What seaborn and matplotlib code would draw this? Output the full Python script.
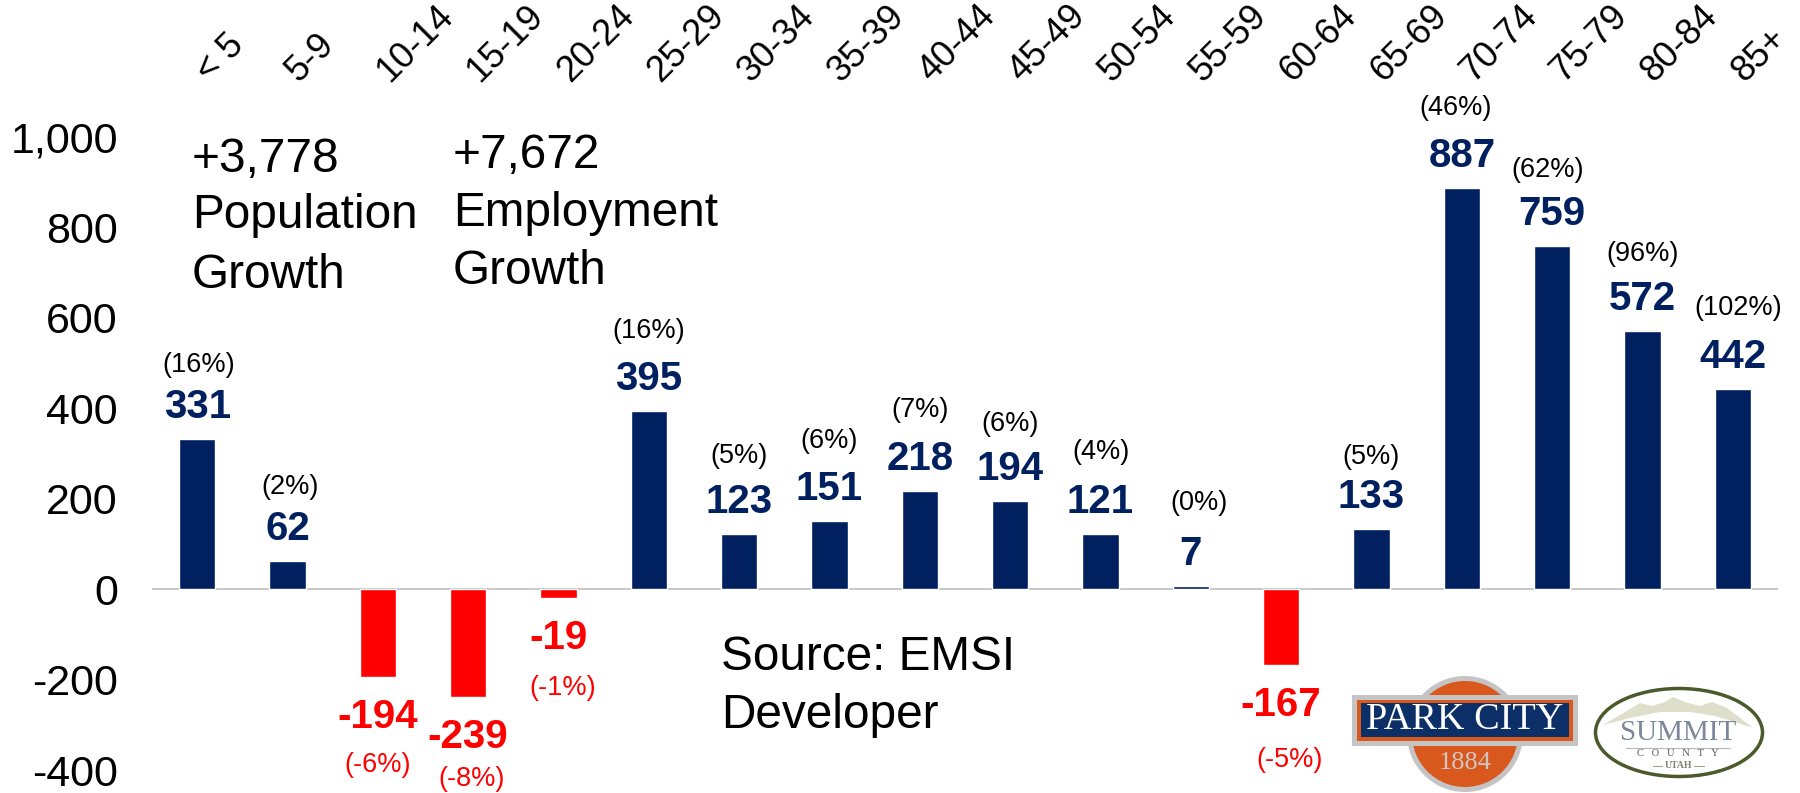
import matplotlib
matplotlib.use('Agg')
import matplotlib.pyplot as plt
from matplotlib.patches import Circle, Ellipse, Polygon, Rectangle
from matplotlib.transforms import ScaledTranslation
import pandas as pd
import seaborn as sns

# Data
age_groups = ['< 5', '5-9', '10-14', '15-19', '20-24', '25-29', '30-34', '35-39', '40-44',
              '45-49', '50-54', '55-59', '60-64', '65-69', '70-74', '75-79', '80-84', '85+']
change = [331, 62, -194, -239, -19, 395, 123, 151, 218, 194, 121, 7, -167, 133, 887, 759, 572, 442]
pct_change = [16, 2, -6, -8, -1, 16, 5, 6, 7, 6, 4, 0, -5, 5, 46, 62, 96, 102]
y_ticks = [-400, -200, 0, 200, 400, 600, 800, 1000]

# Hand placed percent labels in the original: (dx, dy) in pixels on top of the default
pct_nudge = {'< 5': (2, -3), '5-9': (3, -3), '15-19': (3, 6), '20-24': (4, -2),
             '25-29': (0, 3), '30-34': (0, 1), '35-39': (0, 3), '40-44': (0, 4), '50-54': (0, 5),
             '55-59': (8, 6), '60-64': (8, -7), '65-69': (0, -5), '70-74': (-6, 3),
             '75-79': (-5, -1), '85+': (5, 4)}

NAVY = '#002060'
RED = '#FF0000'
W, H = 1800, 793

sns.set_theme(style='white')
plt.rcParams['font.family'] = ['Liberation Sans', 'DejaVu Sans']

df = pd.DataFrame({'age': age_groups, 'change': change, 'pct': pct_change})
df['sign'] = ['neg' if v < 0 else 'pos' for v in change]

fig = plt.figure(figsize=(W / 100, H / 100), dpi=100, facecolor='white')
ax = fig.add_axes([152 / W, 1 - 770 / H, 1626 / W, 633 / H])

sns.barplot(data=df, x='age', y='change', hue='sign', palette={'pos': NAVY, 'neg': RED},
            order=age_groups, dodge=False, width=0.4, saturation=1, legend=False, ax=ax)

ax.set_xlim(-0.5, len(age_groups) - 0.5)
ax.set_ylim(-400, 1000)
ax.set_xlabel('')
ax.set_ylabel('')
sns.despine(ax=ax, left=True, bottom=True, top=True, right=True)
ax.axhline(0, color='#BFBFBF', lw=1.2, zorder=0)

ax.set_yticks(y_ticks)
ax.set_yticklabels([f'{v:,}' for v in y_ticks], fontsize=31, color='black')
ax.tick_params(axis='y', length=0, pad=24.5)

ax.xaxis.tick_top()
ax.set_xticks(range(len(age_groups)))
ax.set_xticklabels(age_groups, fontsize=26, color='black', rotation=45, ha='left',
                   va='bottom', rotation_mode='anchor')
ax.tick_params(axis='x', length=0, pad=34.5)
shift = ScaledTranslation(17 / 100, 0, fig.dpi_scale_trans)
for lab in ax.get_xticklabels():
    lab.set_transform(lab.get_transform() + shift)

# Value and percent labels
for i, row in df.iterrows():
    up = row['change'] >= 0
    col = NAVY if up else RED
    dx, dy = pct_nudge.get(row['age'], (0, 0))
    val_off = 32 if up else -40
    pct_off = 77 if up else -88
    ax.annotate(f"{row['change']}", (i, row['change']), xytext=(0, val_off), textcoords='offset pixels',
                ha='center', va='center', fontsize=29, fontweight='bold', color=col)
    ax.annotate(f"({row['pct']}%)", (i, row['change']), xytext=(dx, pct_off + dy),
                textcoords='offset pixels', ha='center', va='center', fontsize=19.5,
                color='black' if up else RED)

# Overlay in pixel coordinates for the text boxes and logos
ov = fig.add_axes([0, 0, 1, 1], facecolor='none')
ov.set_xlim(0, W)
ov.set_ylim(H, 0)
ov.axis('off')

for x, y, txt in [(192, 159, '+3,778'), (192, 215, 'Population'), (192, 275, 'Growth'),
                  (453, 156, '+7,672'), (453, 213, 'Employment'), (453, 272, 'Growth'),
                  (721, 657, 'Source: EMSI'), (721, 715, 'Developer')]:
    ov.text(x, y, txt, fontsize=34.4, color='black', ha='left', va='center')

# Park City logo
ov.add_patch(Circle((1465, 734), 58, fc='#C4C4C4', ec='none'))
ov.add_patch(Circle((1465, 734), 53, fc='#D9581E', ec='none'))
ov.add_patch(Rectangle((1352, 695), 226, 51, fc='#C4C4C4', ec='none'))
ov.add_patch(Rectangle((1357, 700), 216, 41, fc='#D9581E', ec='none'))
ov.add_patch(Rectangle((1361, 703), 208, 34, fc='#0B2F66', ec='none'))
ov.text(1465, 720, 'PARK CITY', family='Liberation Serif', fontsize=27.5, color='white',
        ha='center', va='center')
ov.text(1465, 763, '1884', family='Liberation Serif', fontsize=19, color='#D0C8C0',
        ha='center', va='center')

# Summit County logo
ov.add_patch(Ellipse((1679, 732.5), 167, 88, fc='white', ec='#4A5A2A', lw=2.5))
ov.add_patch(Polygon([(1603, 725), (1625, 712), (1640, 703), (1652, 706), (1665, 702), (1673, 697),
                      (1685, 702), (1700, 706), (1712, 702), (1727, 708), (1753, 728),
                      (1735, 722), (1715, 716), (1690, 712), (1660, 712), (1630, 718)],
                     fc='#DEDFCB', ec='none'))
ov.text(1678, 733, 'SUMMIT', family='Liberation Serif', fontsize=21, color='#7C879B',
        ha='center', va='center')
ov.plot([1626, 1730], [748, 748], color='#B0B6C2', lw=0.8)
ov.text(1678, 754, 'C   O   U   N   T   Y', family='Liberation Serif', fontsize=7.5, color='#555555',
        ha='center', va='center')
ov.text(1678, 766, 'UTAH', family='Liberation Serif', fontsize=7, fontweight='bold', color='#7C8570',
        ha='center', va='center')
ov.plot([1653, 1662], [766, 766], color='#9CA38F', lw=0.8)
ov.plot([1694, 1704], [766, 766], color='#9CA38F', lw=0.8)

plt.savefig('out.png', dpi=100)
